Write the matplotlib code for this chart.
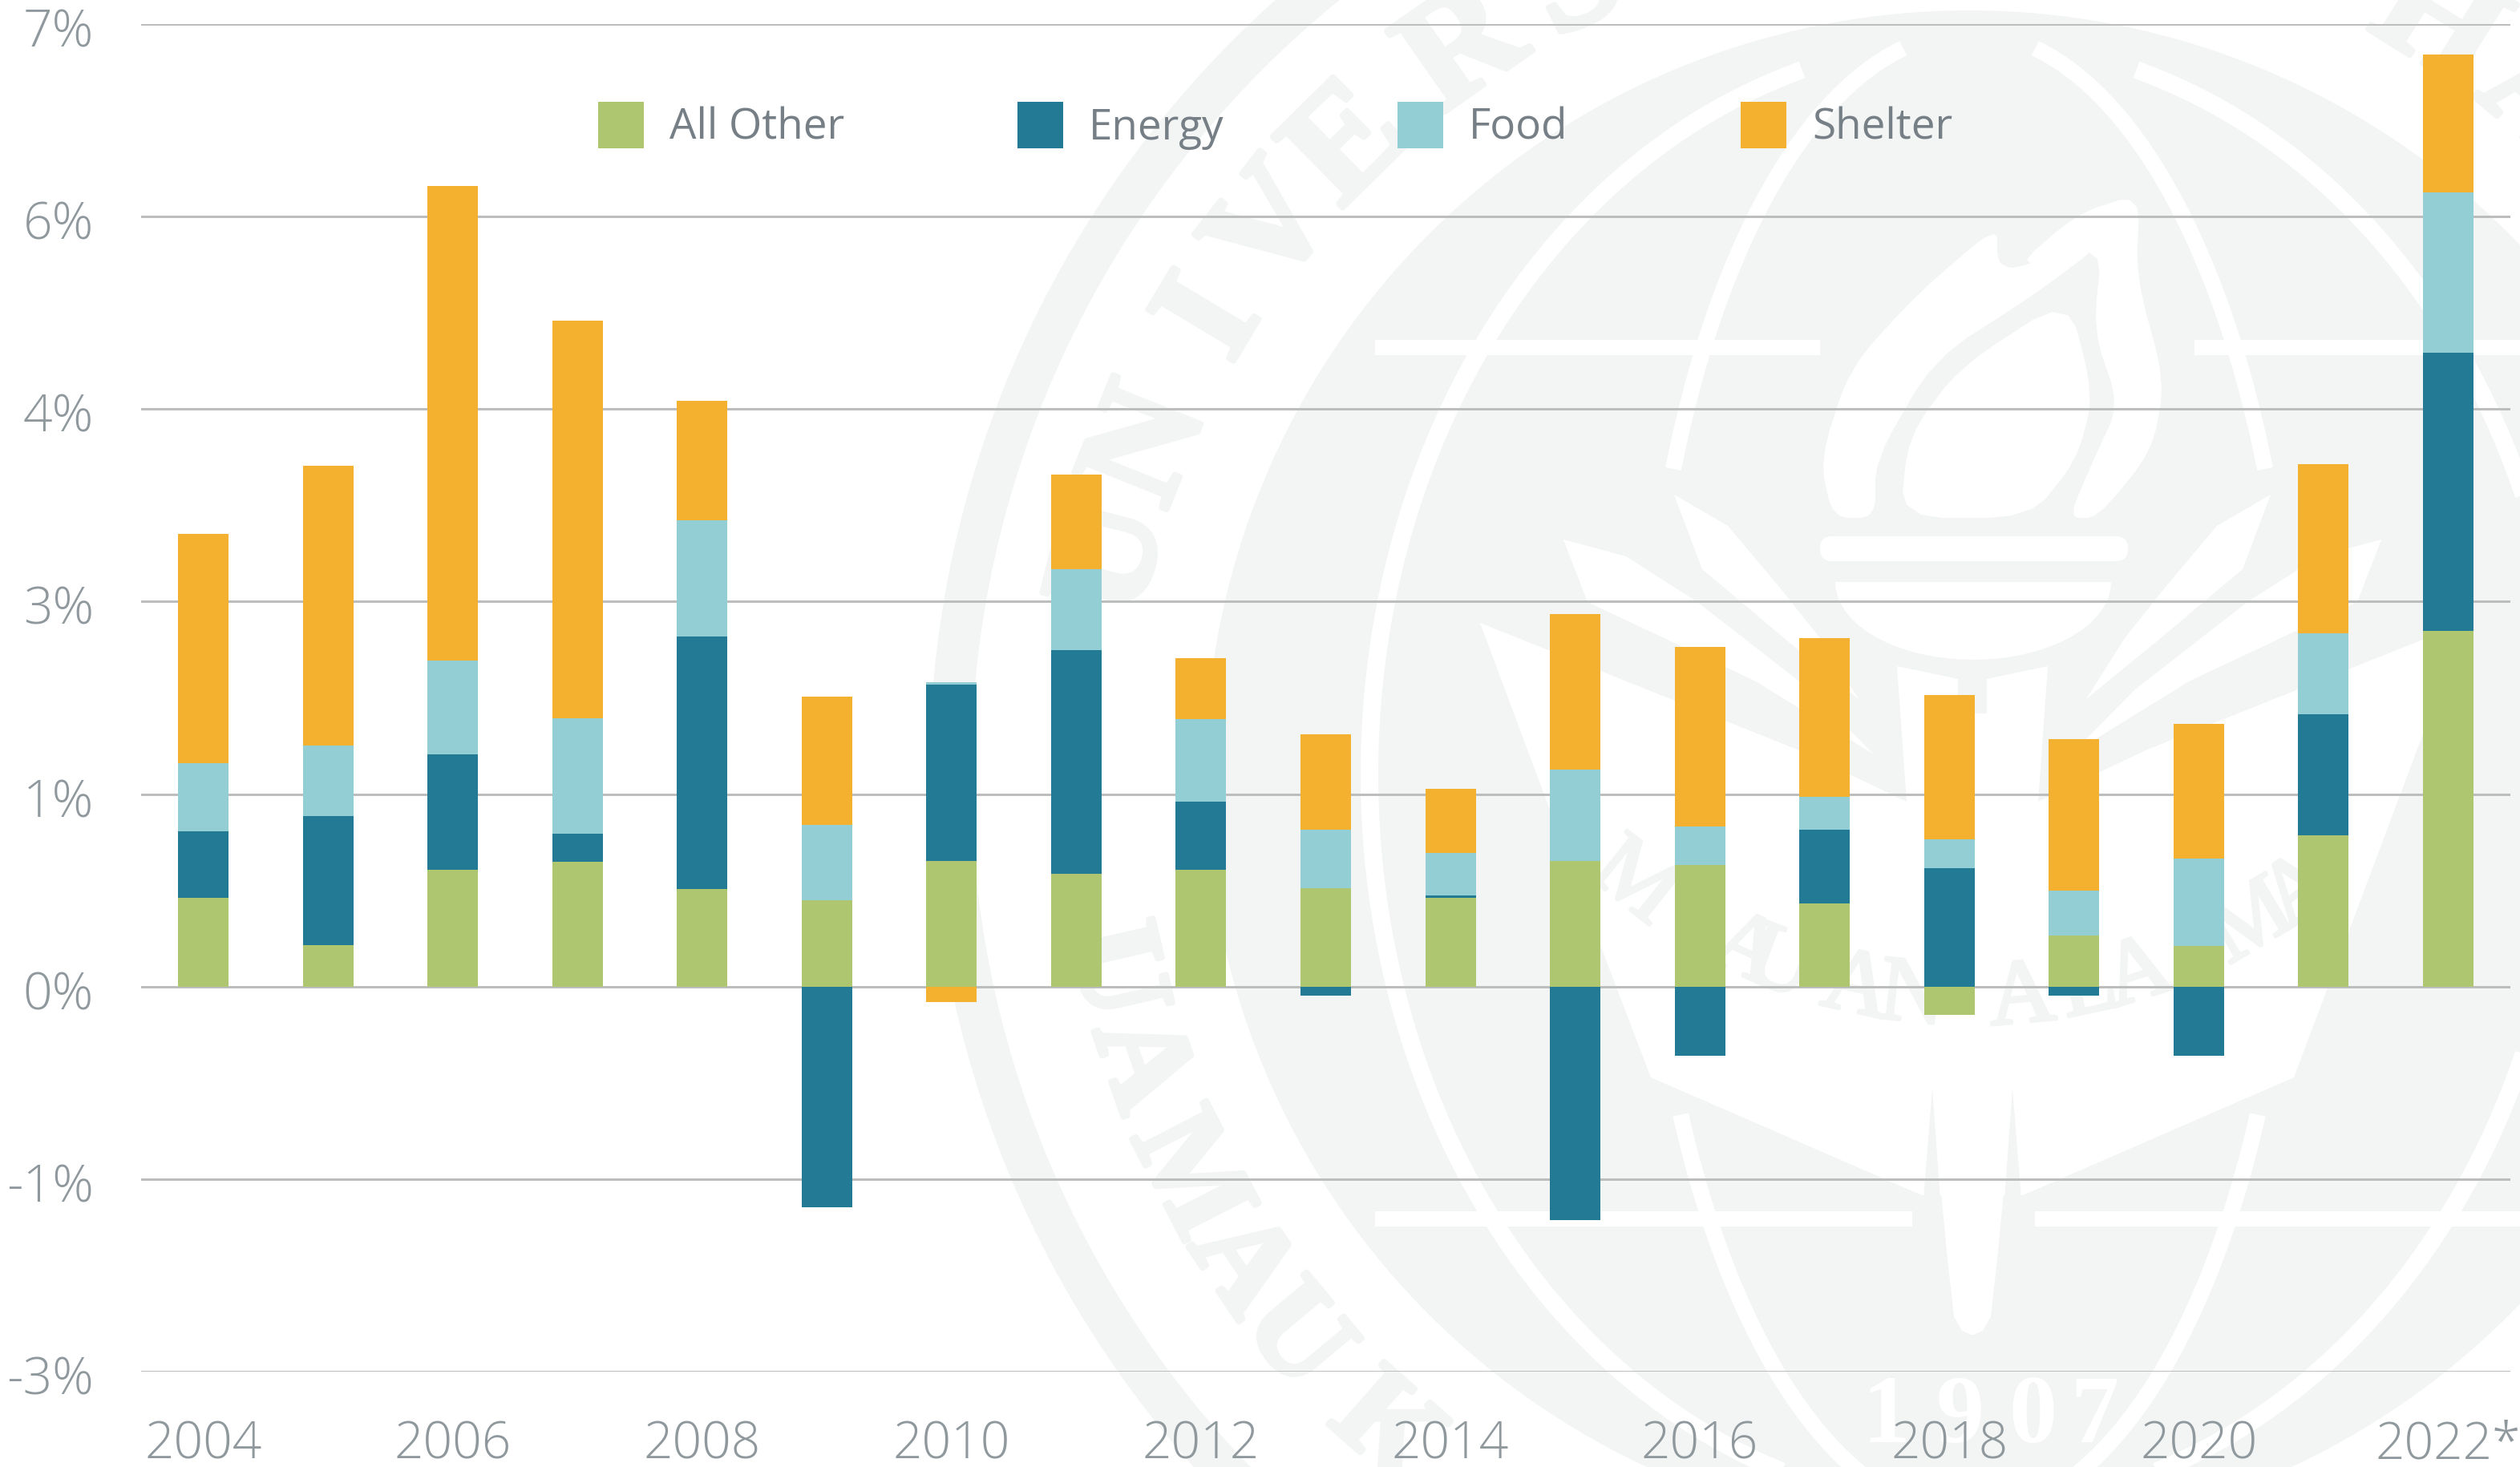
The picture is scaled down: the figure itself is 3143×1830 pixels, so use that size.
import numpy as np
import matplotlib
matplotlib.use("Agg")
import matplotlib.pyplot as plt
import matplotlib.patheffects as pe
from matplotlib.patches import Circle, Wedge, Polygon, Rectangle, FancyBboxPatch
from matplotlib.transforms import ScaledTranslation

# --- data ---
years = list(range(2004, 2023))
all_other = [0.69, 0.32, 0.91, 0.97, 0.76, 0.67, 0.98, 0.88, 0.91, 0.765, 0.69, 0.98,
             0.95, 0.65, -0.22, 0.395, 0.315, 1.18, 2.77]
energy = [0.52, 1.01, 0.90, 0.22, 1.965, -1.72, 1.37, 1.74, 0.53, -0.07, 0.02, -1.82,
          -0.54, 0.57, 0.92, -0.07, -0.54, 0.94, 2.17]
food = [0.53, 0.55, 0.73, 0.90, 0.91, 0.59, 0.02, 0.63, 0.645, 0.46, 0.33, 0.71,
        0.295, 0.26, 0.23, 0.355, 0.68, 0.635, 1.25]
shelter = [1.79, 2.18, 3.70, 3.10, 0.93, 1.00, -0.12, 0.74, 0.475, 0.74, 0.50, 1.215,
           1.40, 1.235, 1.12, 1.18, 1.05, 1.315, 1.07]
series_names = ["All Other", "Energy", "Food", "Shelter"]
y_ticks = [-3, -1.5, 0, 1.5, 3, 4.5, 6, 7.5]
y_labels = ["-3%", "-1%", "0%", "1%", "3%", "4%", "6%", "7%"]
x_labels = ["2004", "2006", "2008", "2010", "2012", "2014", "2016", "2018", "2020", "2022*"]

colors = ["#adc66f", "#227a94", "#93ced5", "#f3b12f"]
W, H, DPI = 3143, 1830, 100
SEAL = "#f3f5f4"
px = 72 / DPI

plt.rcParams["font.family"] = ["Open Sans", "DejaVu Sans"]
fig = plt.figure(figsize=(W / DPI, H / DPI), dpi=DPI, facecolor="white")

# --- faint seal behind the chart, drawn in pixel coordinates ---
bg = fig.add_axes([0, 0, 1, 1], zorder=0)
bg.set_xlim(0, W)
bg.set_ylim(H, 0)
bg.axis("off")
cx, cy, mid = 2456, 966, 2460


def mirror(pts):
    return [(2 * mid - x, y) for x, y in pts]


def white(pts):
    bg.add_patch(Polygon(pts, closed=True, fc="white", ec="none"))


def soften(pts, rounds=2):
    # corner cutting, so the flame outlines read as curves
    p = np.array(pts, dtype=float)
    for _ in range(rounds):
        nxt = np.roll(p, -1, axis=0)
        p = np.column_stack([0.8 * p + 0.2 * nxt, 0.2 * p + 0.8 * nxt]).reshape(-1, 2)
    return p


bg.add_patch(Wedge((cx, cy), 1297, 0, 360, width=52, fc=SEAL, ec="none"))
bg.add_patch(Circle((cx, cy), 953, fc=SEAL, ec="none"))

# banner and torch handle
banner_top = [(1846, 777), (2244, 936), (2378, 1000), (2366, 831), (2442, 847), (2442, 890)]
banner_bottom = [(2397, 1491), (2059, 1344), (1996, 1179)]
white(banner_top + mirror(banner_top)[::-1] + [(2861, 1344), (2523, 1491)] + banner_bottom)
handle = [(2407, 1340), (2428, 1561), (2437, 1642), (2447, 1660), (2458, 1665)]
white(handle + mirror(handle)[::-1])
wedge_l = [(2410, 1357), (2399, 1495), (2420, 1495)]
for pts in (wedge_l, mirror(wedge_l)):
    bg.add_patch(Polygon(pts, closed=True, fc=SEAL, ec="none"))

# leaves
leaf1 = [(2088, 617), (2155, 656), (2219, 732), (2270, 796), (2318, 872), (2230, 800), (2123, 710)]
leaf2 = [(1950, 673), (2028, 694), (2117, 751), (2257, 860), (2337, 941), (2190, 850), (1980, 751)]
for pts in (leaf1, leaf2):
    white(pts)
    white(mirror(pts))

# flame, bar, bowl
white(soften([(2491, 281), (2391, 367), (2307, 459), (2270, 574), (2286, 646), (2339, 646), (2339, 574),
              (2412, 448), (2538, 367), (2622, 304), (2559, 319), (2511, 336), (2491, 327)]))
white(soften([(2669, 241), (2590, 267), (2511, 336), (2622, 304), (2611, 413), (2643, 505), (2611, 574),
              (2580, 646), (2616, 646), (2684, 563), (2700, 476), (2664, 344)]))
white(soften([(2580, 370), (2611, 494), (2590, 574), (2532, 646), (2370, 646), (2380, 545), (2443, 459)]))
bg.add_patch(FancyBboxPatch((2270, 669), 384, 31, boxstyle="round,pad=0,rounding_size=15",
                            fc="white", ec="none"))
bowl_t = np.radians(np.arange(0, 181, 5))
white(list(zip(2461 + 172 * np.cos(bowl_t), 726 + 97 * np.sin(bowl_t))))

# globe lines
t = np.linspace(0, 2 * np.pi, 721)
for a, b, lo, hi, lw in ((748, 915, 89, 1900, 22), (405, 925, 63, 580, 20), (405, 925, 1395, 1900, 20)):
    ex, ey = cx + a * np.cos(t), cy + b * np.sin(t)
    for side in (ex < cx, ex > cx):
        keep = side & (ey >= lo) & (ey <= hi)
        order = np.argsort(ey[keep])
        bg.plot(ex[keep][order], ey[keep][order], color="white", lw=lw * px)
for x0, x1, y0, y1 in ((1715, 2270, 424, 443), (2737, 3143, 424, 443),
                       (1715, 2385, 1511, 1530), (2538, 3143, 1511, 1530)):
    bg.add_patch(Rectangle((x0, y0), x1 - x0, y1 - y0, fc="white", ec="none"))

# lettering
heavier = [pe.withStroke(linewidth=5, foreground=SEAL)]
ring_font = dict(family="Liberation Serif", weight="bold", color=SEAL, ha="center", va="center",
                 rotation_mode="anchor", path_effects=heavier)
top_letters = "UNIVERSHA"
top_angles = [-75.8, -68.2, -59.0, -51.9, -44.6, -34.9, -26.5, 32.0, 40.3]
for ch, ang in zip(top_letters, top_angles):
    a = np.radians(ang)
    bg.text(cx + 1098 * np.sin(a), cy - 1098 * np.cos(a), ch, rotation=-ang, fontsize=190 * px, **ring_font)
low_letters = "UAMAUK"
low_angles = [-103.0, -109.2, -117.2, -124.0, -129.9, -138.4]
for ch, ang in zip(low_letters, low_angles):
    a = np.radians(ang)
    bg.text(cx + 1098 * np.sin(a), cy - 1098 * np.cos(a), ch, rotation=-ang - 180, fontsize=160 * px, **ring_font)
banner_x = [2037, 2177, 2219, 2315, 2385, 2522, 2605, 2668, 2809, 2869]
for ch, x in zip("MAUANALAMA", banner_x):
    dx = x - mid
    bg.text(x, 580 + np.sqrt(680 ** 2 - dx ** 2) - 10, ch, rotation=np.degrees(np.arcsin(dx / 680)),
            family="Liberation Serif", color=SEAL, ha="center", va="center",
            rotation_mode="anchor", fontsize=115 * px,
            path_effects=[pe.withStroke(linewidth=3, foreground=SEAL)])
for ch, x in zip("1907", [2352, 2445, 2535, 2612]):
    bg.text(x, 1770, ch, family="Liberation Serif", weight="bold", color="white", ha="center",
            va="center", fontsize=120 * px)

# --- chart ---
left, right, top, bottom = 176, 3131, 30, 1711
ax = fig.add_axes([left / W, 1 - bottom / H, (right - left) / W, (bottom - top) / H], zorder=1)
ax.patch.set_alpha(0)
x = np.arange(len(years))
pos_base = np.zeros(len(years))
neg_base = np.zeros(len(years))
for name, vals, col in zip(series_names, [all_other, energy, food, shelter], colors):
    vals = np.array(vals)
    base = np.where(vals >= 0, pos_base, neg_base)
    ax.bar(x, vals, bottom=base, width=0.405, color=col, label=name, zorder=3, linewidth=0)
    pos_base += np.clip(vals, 0, None)
    neg_base += np.clip(vals, None, 0)

ax.set_xlim(-0.5, len(years) - 0.5)
ax.set_ylim(-3, 7.5)
ax.set_yticks(y_ticks)
ax.set_yticklabels(y_labels)
ax.set_xticks(x[::2])
ax.set_xticklabels(x_labels)
ax.tick_params(axis="y", length=0, pad=59 * px, labelsize=64 * px, labelcolor="#8f989c")
ax.tick_params(axis="x", length=0, pad=60 * px, labelsize=64 * px, labelcolor="#8f989c")
# the y labels sit a little under their gridlines
nudge = ScaledTranslation(0, -4 / DPI, fig.dpi_scale_trans)
for lab in ax.get_yticklabels():
    lab.set_transform(lab.get_transform() + nudge)
for lab in ax.get_xticklabels() + ax.get_yticklabels():
    lab.set_fontweight("light")
ax.yaxis.grid(True, color="#bcbdbd", linewidth=3 * px)
ax.set_axisbelow(True)
for sp in ax.spines.values():
    sp.set_visible(False)

leg = ax.legend(loc="upper left", bbox_to_anchor=(746 / W, 1 - 127 / H), bbox_transform=fig.transFigure,
                ncol=4, frameon=False, fontsize=53 * px, borderpad=0, borderaxespad=0,
                handlelength=1.075, handleheight=1.3, handletextpad=0.6, columnspacing=4.08,
                labelcolor="#757f85")

fig.savefig("out.png", dpi=DPI)
